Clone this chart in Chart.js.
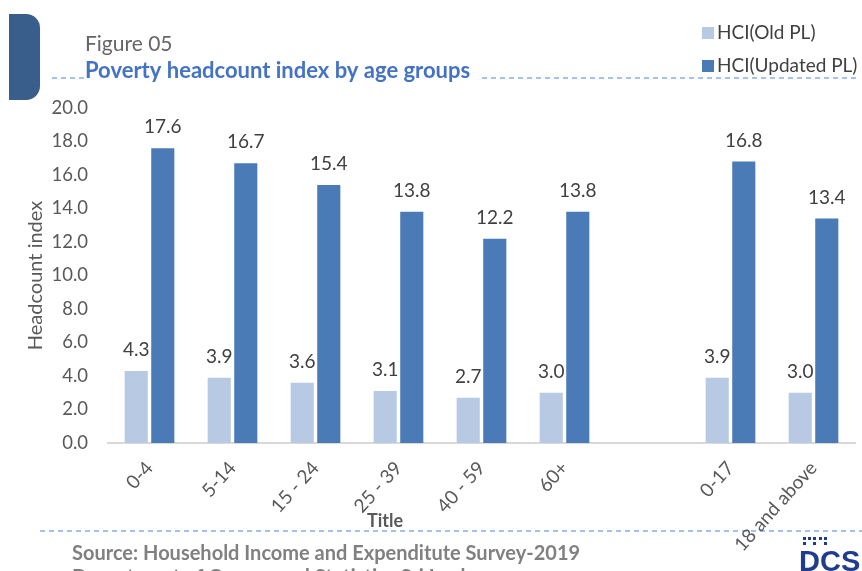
<!DOCTYPE html>
<html>
<head>
<meta charset="utf-8">
<script src="https://cdn.jsdelivr.net/npm/chart.js@4"></script>
<style>
  html, body { margin: 0; padding: 0; background: #fff; }
  #wrap { position: relative; width: 862px; height: 571px; }
</style>
</head>
<body>
<div id="wrap"><canvas id="hciChart" width="862" height="571"></canvas></div>
<script>
// data
var ageGroups = ["0-4", "5-14", "15 - 24", "25 - 39", "40 - 59", "60+", "", "0-17", "18 and above"];
var hciOld = [4.3, 3.9, 3.6, 3.1, 2.7, 3.0, null, 3.9, 3.0];
var hciUpdated = [17.6, 16.7, 15.4, 13.8, 12.2, 13.8, null, 16.8, 13.4];
var seriesNames = ["HCI(Old PL)", "HCI(Updated PL)"];

var lightBlue = "#B7C9E3";
var darkBlue = "#4A7BB7";
var labelFont = "Lato, 'Open Sans', sans-serif";

// titles, dashed rules, legend, source, logo
var decorations = {
  id: "decorations",
  beforeDraw: function (chart) {
    var ctx = chart.ctx;
    ctx.save();
    // left tab
    ctx.fillStyle = "#3A5E8C";
    ctx.beginPath();
    ctx.moveTo(9, 14);
    ctx.lineTo(26, 14);
    ctx.arcTo(40, 14, 40, 28, 14);
    ctx.lineTo(40, 86);
    ctx.arcTo(40, 100, 26, 100, 14);
    ctx.lineTo(9, 100);
    ctx.closePath();
    ctx.fill();

    // dashed rules
    ctx.strokeStyle = "#4A86E0";
    ctx.lineWidth = 1.2;
    ctx.setLineDash([5, 4]);
    ctx.beginPath();
    ctx.moveTo(52, 78); ctx.lineTo(84, 78);
    ctx.moveTo(482, 78); ctx.lineTo(860, 78);
    ctx.moveTo(40, 531); ctx.lineTo(862, 531);
    ctx.stroke();
    ctx.setLineDash([]);

    ctx.textBaseline = "alphabetic";
    ctx.textAlign = "left";
    ctx.fillStyle = "#666666";
    ctx.font = "21px " + labelFont;
    ctx.fillText("Figure 05", 85, 51);
    ctx.fillStyle = "#4472C4";
    ctx.font = "bold 22px " + labelFont;
    ctx.fillText("Poverty headcount index by age groups", 85, 78);

    // legend
    ctx.font = "19px " + labelFont;
    ctx.textBaseline = "middle";
    ctx.fillStyle = lightBlue;
    ctx.fillRect(702, 27, 12, 12);
    ctx.fillStyle = darkBlue;
    ctx.fillRect(702, 60, 12, 12);
    ctx.fillStyle = "#404040";
    ctx.fillText(seriesNames[0], 717, 33);
    ctx.fillText(seriesNames[1], 717, 66);

    // axis title
    ctx.textAlign = "center";
    ctx.textBaseline = "alphabetic";
    ctx.fillStyle = "#595959";
    ctx.font = "bold 18px " + labelFont;
    ctx.fillText("Title", 385, 527);

    // source
    ctx.textAlign = "left";
    ctx.fillStyle = "#808080";
    ctx.font = "bold 20px " + labelFont;
    ctx.fillText("Source: Household Income and Expenditute Survey-2019", 72, 560);
    ctx.fillText("Department of Census and Statistics Sri Lanka", 72, 584);

    // DCS logo
    ctx.fillStyle = "#1F3C8F";
    var dots = [[803, 537], [808, 537], [813, 537], [819, 537], [824, 537], [803, 542], [813, 542], [824, 542]];
    dots.forEach(function (d) { ctx.fillRect(d[0], d[1], 3, 3); });
    ctx.font = "bold 29px 'Liberation Sans', sans-serif";
    ctx.fillText("DCS", 799, 571);
    ctx.restore();
  }
};

// value labels above bars
var valueLabels = {
  id: "valueLabels",
  afterDatasetsDraw: function (chart) {
    var ctx = chart.ctx;
    ctx.save();
    ctx.fillStyle = "#404040";
    ctx.font = "19px " + labelFont;
    ctx.textAlign = "center";
    ctx.textBaseline = "alphabetic";
    chart.data.datasets.forEach(function (ds, i) {
      chart.getDatasetMeta(i).data.forEach(function (bar, j) {
        if (ds.data[j] == null) return;
        ctx.fillText(ds.data[j].toFixed(1), bar.x, bar.y - 15);
      });
    });
    ctx.restore();
  }
};

new Chart(document.getElementById("hciChart").getContext("2d"), {
  type: "bar",
  data: {
    labels: ageGroups,
    datasets: [
      { label: seriesNames[0], data: hciOld, backgroundColor: lightBlue },
      { label: seriesNames[1], data: hciUpdated, backgroundColor: darkBlue }
    ]
  },
  options: {
    responsive: false,
    animation: false,
    layout: { padding: { left: 0, top: 108, right: 7, bottom: 0 } },
    datasets: { bar: { categoryPercentage: 0.64, barPercentage: 0.87 } },
    scales: {
      x: {
        grid: { display: false },
        border: { color: "#D9D9D9", width: 2 },
        ticks: {
          color: "#595959",
          font: { family: labelFont, size: 19 },
          maxRotation: 48,
          minRotation: 48,
          padding: 6
        },
        afterFit: function (axis) { axis.height = 128; }
      },
      y: {
        min: 0,
        max: 20,
        ticks: {
          stepSize: 2,
          color: "#595959",
          padding: 12,
          font: { family: labelFont, size: 18.5 },
          callback: function (v) { return v.toFixed(1); }
        },
        grid: { display: false },
        border: { display: false },
        title: {
          display: true,
          text: "Headcount index",
          color: "#595959",
          font: { family: labelFont, size: 20 },
          padding: { top: 24, bottom: 0 }
        },
        afterFit: function (axis) { axis.width = 108; }
      }
    },
    plugins: {
      legend: { display: false },
      tooltip: { enabled: false }
    }
  },
  plugins: [decorations, valueLabels]
});
</script>
</body>
</html>
